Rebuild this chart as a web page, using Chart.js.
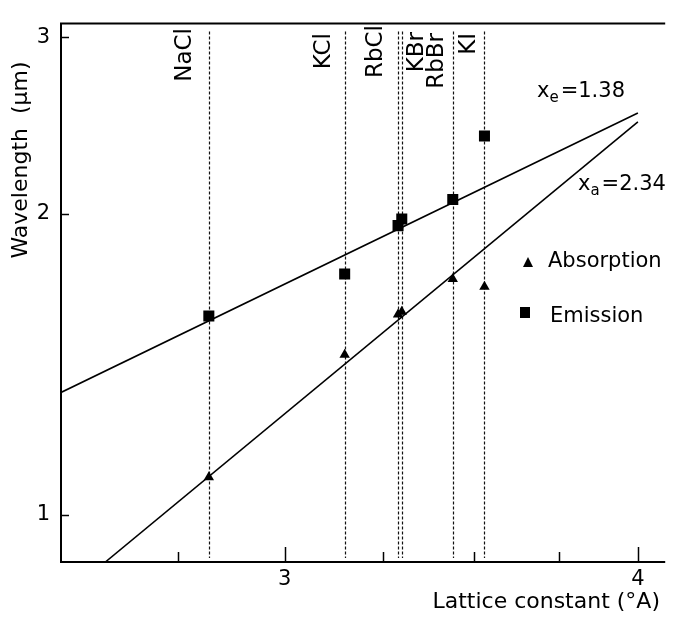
<!DOCTYPE html>
<html>
<head>
<meta charset="utf-8">
<script src="https://cdn.jsdelivr.net/npm/chart.js@4.4.0/dist/chart.umd.min.js"></script>
<style>
  html, body { margin: 0; padding: 0; background: #fff; }
  #wrap { width: 673px; height: 626px; }
</style>
</head>
<body>
<div id="wrap"><canvas id="chart"></canvas></div>
<script>
// data
var crystals = ['NaCl', 'KCl', 'RbCl', 'KBr', 'RbBr', 'KI'];
var latticeConst = [2.82, 3.15, 3.29, 3.30, 3.44, 3.53];
var absorption = [1.09, 1.445, 1.585, 1.595, 1.72, 1.69];
var emission = [1.58, 1.74, 1.945, 1.975, 2.065, 2.39];

// fitted lines (end points)
var emissionFitX = [2.5, 4.0];
var emissionFitY = [1.325, 2.52];
var absorptionFitX = [2.592, 4.0];
var absorptionFitY = [0.897, 2.47];

var xTicks = [2.75, 3, 3.25, 3.5, 3.75, 4];
var xTickLabels = ['', '3', '', '', '', '4'];
var yTicks = [1, 2, 3];
var yTickLabels = ['1', '2', '3'];

var FONT = '"DejaVu Sans", sans-serif';

function pts(xs, ys) {
  return xs.map(function (x, i) { return { x: x, y: ys[i] }; });
}

// label placement beside each dashed line
var labelShift = [-24, -21, -22, 15, -16, -15];
var labelTop = [28, 33, 25, 32, 33, 33];

function subLabel(ctx, base, sub, rest, x, y) {
  ctx.font = '21px ' + FONT;
  ctx.fillText(base, x, y);
  var w = ctx.measureText(base).width;
  ctx.font = '15px ' + FONT;
  ctx.fillText(sub, x + w, y + 5);
  var w2 = ctx.measureText(sub).width;
  ctx.font = '21px ' + FONT;
  ctx.fillText(rest, x + w + w2 + 2, y);
}

var decor = {
  id: 'decor',
  beforeDatasetsDraw: function (chart) {
    var ctx = chart.ctx, xs = chart.scales.x, ys = chart.scales.y;
    ctx.save();
    ctx.strokeStyle = '#111';
    ctx.lineWidth = 1.2;
    ctx.setLineDash([3, 2]);
    latticeConst.forEach(function (a) {
      var px = Math.round(xs.getPixelForValue(a)) + 0.5;
      ctx.beginPath();
      ctx.moveTo(px, ys.getPixelForValue(3.04));
      ctx.lineTo(px, ys.bottom - 4);
      ctx.stroke();
    });
    ctx.restore();
  },
  afterDraw: function (chart) {
    var ctx = chart.ctx, xs = chart.scales.x, ys = chart.scales.y, area = chart.chartArea;
    ctx.save();
    ctx.strokeStyle = '#000';
    ctx.lineWidth = 2;
    ctx.beginPath();
    ctx.moveTo(area.right, area.top);
    ctx.lineTo(area.left, area.top);
    ctx.lineTo(area.left, area.bottom);
    ctx.lineTo(area.right, area.bottom);
    ctx.stroke();

    // inward ticks
    ctx.lineWidth = 1.5;
    xTicks.forEach(function (v, i) {
      var px = Math.round(xs.getPixelForValue(v)) + 0.5;
      var len = xTickLabels[i] ? 15 : 10;
      ctx.beginPath();
      ctx.moveTo(px, area.bottom);
      ctx.lineTo(px, area.bottom - len);
      ctx.stroke();
    });
    yTicks.forEach(function (v) {
      var py = Math.round(ys.getPixelForValue(v)) + 0.5;
      ctx.beginPath();
      ctx.moveTo(area.left, py);
      ctx.lineTo(area.left + 8, py);
      ctx.stroke();
    });

    ctx.fillStyle = '#000';

    // crystal names, rotated
    ctx.font = '23px ' + FONT;
    ctx.textAlign = 'right';
    ctx.textBaseline = 'middle';
    crystals.forEach(function (name, i) {
      var px = xs.getPixelForValue(latticeConst[i]) + labelShift[i];
      ctx.save();
      ctx.translate(px, labelTop[i]);
      ctx.rotate(-Math.PI / 2);
      ctx.fillText(name, 0, 0);
      ctx.restore();
    });

    // fit labels
    ctx.textAlign = 'left';
    ctx.textBaseline = 'alphabetic';
    subLabel(ctx, 'x', 'e', '=1.38', 537, 97);
    subLabel(ctx, 'x', 'a', '=2.34', 578, 190);

    // legend
    ctx.beginPath();
    ctx.moveTo(528, 257);
    ctx.lineTo(533, 267);
    ctx.lineTo(523, 267);
    ctx.closePath();
    ctx.fill();
    ctx.fillRect(520, 307, 10, 11);
    ctx.font = '21px ' + FONT;
    ctx.fillText('Absorption', 548, 267);
    ctx.fillText('Emission', 550, 322);

    // axis titles
    ctx.font = '22px ' + FONT;
    ctx.textAlign = 'right';
    ctx.fillText('Lattice constant (\u00b0A)', 660, 608);
    ctx.save();
    ctx.translate(21, 160);
    ctx.rotate(-Math.PI / 2);
    ctx.textAlign = 'center';
    ctx.textBaseline = 'middle';
    ctx.fillText('Wavelength  (\u03bcm)', 0, 0);
    ctx.restore();

    ctx.restore();
  }
};

new Chart(document.getElementById('chart'), {
  type: 'scatter',
  data: {
    datasets: [
      {
        label: 'Absorption',
        data: pts(latticeConst, absorption),
        pointStyle: 'triangle',
        pointRadius: 6,
        backgroundColor: '#000',
        borderColor: '#000',
        borderWidth: 0
      },
      {
        label: 'Emission',
        data: pts(latticeConst, emission),
        pointStyle: 'rect',
        pointRadius: 7.8,
        backgroundColor: '#000',
        borderColor: '#000',
        borderWidth: 0
      },
      {
        label: 'xe fit',
        data: pts(emissionFitX, emissionFitY),
        showLine: true,
        pointRadius: 0,
        borderColor: '#000',
        borderWidth: 1.6
      },
      {
        label: 'xa fit',
        data: pts(absorptionFitX, absorptionFitY),
        showLine: true,
        pointRadius: 0,
        borderColor: '#000',
        borderWidth: 1.6
      }
    ]
  },
  options: {
    responsive: true,
    maintainAspectRatio: false,
    animation: false,
    layout: { padding: { top: 6, right: 0, left: 0, bottom: 0 } },
    plugins: {
      legend: { display: false },
      tooltip: { enabled: false }
    },
    scales: {
      x: {
        type: 'logarithmic',
        min: 2.5,
        max: 4.09,
        grid: { display: false, drawTicks: false },
        border: { display: false },
        afterBuildTicks: function (s) {
          s.ticks = xTicks.map(function (v) { return { value: v }; });
        },
        afterFit: function (s) { s.height = 64; },
        ticks: {
          autoSkip: false,
          maxRotation: 0,
          padding: 5,
          color: '#000',
          font: { family: FONT, size: 21 },
          callback: function (v, i) { return xTickLabels[i]; }
        }
      },
      y: {
        type: 'logarithmic',
        min: 0.897,
        max: 3.096,
        grid: { display: false, drawTicks: false },
        border: { display: false },
        afterBuildTicks: function (s) {
          s.ticks = yTicks.map(function (v) { return { value: v }; });
        },
        afterFit: function (s) { s.width = 61; },
        ticks: {
          autoSkip: false,
          padding: 11,
          color: '#000',
          font: { family: FONT, size: 21 },
          callback: function (v, i) { return yTickLabels[i]; }
        }
      }
    }
  },
  plugins: [decor]
});
</script>
</body>
</html>
